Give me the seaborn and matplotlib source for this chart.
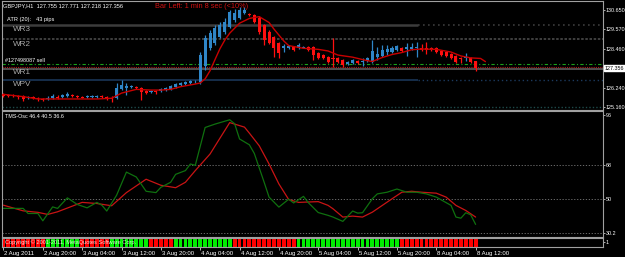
import numpy as np
import pandas as pd
import matplotlib
matplotlib.use("Agg")
import matplotlib.pyplot as plt
import matplotlib.transforms as mtransforms
import seaborn as sns

# ---------------- data ----------------
bars = list(range(97))
opens = [125.91, 125.85, 125.85, 125.80, 125.80, 125.68, 125.74, 125.68, 125.63, 125.63,
         125.68, 125.74, 125.74, 125.80, 125.85, 125.80, 125.74, 125.74, 125.74, 125.74,
         125.80, 125.74, 125.68, 125.68, 126.19, 126.25, 126.30, 126.30, 126.25, 126.08,
         126.02, 126.08, 126.08, 126.13, 126.19, 126.30, 126.41, 126.47, 126.53, 126.58,
         126.58, 127.48, 128.50, 128.78, 129.12, 129.40, 129.68, 130.07, 130.18, 130.46,
         130.41, 130.35, 130.18, 129.79, 129.40, 129.12, 128.78, 128.50, 128.50, 128.55,
         128.50, 128.50, 128.55, 128.55, 128.22, 128.10, 127.99, 127.93, 127.93, 127.82,
         127.60, 127.65, 127.77, 127.71, 127.77, 127.71, 127.99, 128.05, 128.27, 128.27,
         128.38, 128.50, 128.44, 128.44, 128.50, 128.50, 128.50, 128.50, 128.50, 128.33,
         128.27, 128.16, 128.05, 127.93, 127.93, 127.93, 127.755]
highs = [125.97, 125.91, 125.91, 125.85, 125.85, 125.80, 125.80, 125.74, 125.68, 125.80,
         125.91, 125.85, 125.91, 126.02, 125.91, 125.85, 125.80, 125.85, 125.85, 125.85,
         125.85, 125.80, 125.80, 126.53, 126.70, 126.53, 126.41, 126.36, 126.30, 126.13,
         126.13, 126.13, 126.25, 126.30, 126.41, 126.53, 126.58, 126.64, 126.70, 126.70,
         128.27, 129.23, 129.51, 129.79, 129.96, 130.18, 130.63, 130.69, 130.80, 130.80,
         130.46, 130.41, 130.30, 129.85, 129.51, 129.17, 128.83, 128.72, 128.66, 128.61,
         128.78, 128.61, 128.61, 128.61, 128.27, 128.16, 128.05, 129.06, 127.99, 127.88,
         127.77, 127.88, 127.82, 127.93, 127.99, 128.95, 128.55, 128.66, 128.66, 128.61,
         128.66, 128.55, 128.78, 128.78, 128.83, 128.72, 128.83, 128.55, 128.55, 128.38,
         128.33, 128.22, 128.10, 127.99, 128.22, 127.99, 127.771]
lows = [125.74, 125.74, 125.74, 125.63, 125.52, 125.63, 125.63, 125.52, 125.52, 125.57,
        125.63, 125.63, 125.68, 125.74, 125.74, 125.68, 125.68, 125.68, 125.68, 125.68,
        125.68, 125.57, 125.46, 125.63, 126.13, 125.85, 126.25, 126.19, 125.57, 125.91,
        125.97, 125.91, 126.02, 126.08, 126.13, 126.25, 126.36, 126.41, 126.47, 126.53,
        126.47, 127.26, 128.38, 128.66, 129.06, 129.28, 129.62, 129.96, 130.13, 130.41,
        130.30, 129.90, 129.28, 128.66, 128.72, 127.99, 127.93, 128.27, 128.44, 128.33,
        128.44, 128.47, 128.33, 127.82, 127.88, 127.88, 127.65, 127.43, 127.65, 127.43,
        127.54, 127.60, 127.60, 127.48, 127.71, 127.65, 127.82, 127.99, 128.10, 128.22,
        128.33, 128.27, 128.05, 128.38, 127.99, 128.33, 128.16, 128.33, 128.22, 128.05,
        127.99, 127.88, 127.65, 127.65, 127.77, 127.65, 127.218]
closes = [125.80, 125.82, 125.80, 125.74, 125.63, 125.74, 125.68, 125.63, 125.60, 125.68,
          125.80, 125.71, 125.85, 125.91, 125.80, 125.74, 125.71, 125.77, 125.75, 125.80,
          125.74, 125.68, 125.63, 126.25, 126.41, 126.36, 126.36, 126.25, 126.02, 125.97,
          126.08, 126.02, 126.19, 126.25, 126.36, 126.47, 126.53, 126.58, 126.64, 126.61,
          128.10, 129.06, 129.34, 129.62, 129.79, 129.96, 130.52, 130.46, 130.63, 130.63,
          130.35, 129.96, 129.40, 128.95, 128.78, 128.50, 128.22, 128.61, 128.61, 128.38,
          128.66, 128.55, 128.38, 128.10, 127.93, 127.93, 127.71, 127.88, 127.71, 127.54,
          127.71, 127.82, 127.65, 127.77, 127.93, 128.33, 128.16, 128.38, 128.44, 128.50,
          128.61, 128.33, 128.55, 128.55, 128.55, 128.38, 128.38, 128.38, 128.27, 128.10,
          128.05, 127.93, 127.71, 127.88, 127.99, 127.71, 127.356]

ma_bars = [0, 4, 7, 13, 19, 22, 24, 27, 30, 32, 34, 36, 39, 40, 41, 42, 43, 44, 45, 46,
           48, 50, 52, 54, 55, 57, 58, 61, 64, 66, 68, 71, 74, 75, 77, 79, 81, 83, 85, 88,
           91, 93, 95, 97, 98]
ma_vals = [125.89, 125.76, 125.63, 125.63, 125.63, 125.67, 125.96, 126.17, 126.13, 126.13,
           126.17, 126.32, 126.47, 126.53, 126.76, 127.22, 127.84, 128.45, 128.94, 129.33,
           129.89, 130.16, 130.26, 129.93, 129.56, 128.89, 128.63, 128.48, 128.42, 128.33,
           128.10, 127.98, 127.78, 127.74, 127.96, 128.13, 128.24, 128.40, 128.44, 128.42,
           128.27, 128.05, 127.94, 127.91, 127.73]

osc_fast_bars = [0, 4, 5, 7, 8, 10, 11, 13, 15, 17, 19, 20, 21, 23, 25, 27, 29, 31, 32, 34,
                 35, 37, 38, 39, 41, 43, 46, 47, 48, 50, 51, 53, 54, 56, 58, 59, 61, 62, 64,
                 66, 67, 69, 71, 72, 73, 75, 76, 78, 80, 82, 84, 86, 88, 91, 92, 93, 94, 95, 96]
osc_fast_vals = [45.1, 45.1, 42.4, 42.4, 38.5, 45.9, 45.1, 50.7, 47.2, 45.4, 48.3, 46.8, 43.7,
                 52.1, 64.4, 61.8, 54.2, 53.5, 56.3, 59.0, 63.2, 65.2, 68.7, 68.0, 88.1, 89.9,
                 92.2, 90.1, 82.0, 78.9, 74.3, 59.0, 51.1, 45.8, 50.0, 48.0, 51.5, 48.1, 42.9,
                 41.4, 40.5, 38.2, 43.7, 42.6, 42.8, 50.2, 52.8, 53.7, 55.4, 53.7, 53.7, 52.8,
                 51.1, 46.7, 40.5, 39.9, 42.8, 41.7, 36.6]
osc_slow_bars = [0, 4, 7, 9, 11, 16, 19, 22, 25, 29, 32, 35, 37, 39, 42, 46, 49, 50, 52, 54,
                 56, 58, 60, 64, 66, 67, 69, 71, 73, 75, 79, 81, 83, 85, 88, 90, 92, 94, 96]
osc_slow_vals = [46.8, 43.8, 43.0, 41.9, 43.3, 48.3, 47.7, 46.5, 53.5, 60.6, 57.4, 56.1, 59.0,
                 65.2, 74.0, 90.7, 88.3, 85.1, 78.4, 68.7, 58.1, 49.8, 48.3, 48.7, 46.7, 44.9,
                 40.5, 41.0, 40.5, 43.1, 50.2, 53.7, 54.2, 53.7, 53.2, 51.1, 46.7, 44.0, 40.5]

signal = ("RRRRRRRRR" "GGGGGGG" "RRRRRR" "GGGGGGGG" "RRRRR" "GGGGGGGGGGGG"
          "RRRRRRRRRRRRR" "GGGGGGGGGGGGGGGGGGGGG" "RRRRRRRRRRRRRRRR")

tick_bars = [0, 8, 16, 24, 32, 40, 48, 56, 64, 72, 80, 88, 96]
tick_labels = ["2 Aug 2011", "2 Aug 20:00", "3 Aug 04:00", "3 Aug 12:00", "3 Aug 20:00",
               "4 Aug 04:00", "4 Aug 12:00", "4 Aug 20:00", "5 Aug 04:00", "5 Aug 12:00",
               "5 Aug 20:00", "8 Aug 04:00", "8 Aug 12:00"]
price_ticks = [130.650, 129.570, 128.460, 126.240, 125.160]
last_price = 127.356
wr3, wr2, wr1, wpv = 129.79, 129.03, 127.34, 126.70
order_price, stop_price, floor_price = 127.60, 127.45, 125.18
osc_levels = [68, 50, 32]
osc_ticks = [94.6, 68, 50, 32]
osc_tick_labels = ["96", "68", "50", "30.2"]

# ---------------- style ----------------
sns.set_theme(style="dark", rc={"axes.facecolor": "black", "figure.facecolor": "black"})
plt.rcParams["font.family"] = ["Liberation Sans", "DejaVu Sans"]

BULL = "#2f86c8"
BEAR = "#ff1010"
SPINE = "#a0a0a0"
AXFS = 3.9   # right-hand scale labels
W, H = 625, 257

fig = plt.figure(figsize=(W / 100, H / 100), dpi=100, facecolor="black")


def box(x0, y0, x1, y1):
    return [x0 / W, 1 - y1 / H, (x1 - x0) / W, (y1 - y0) / H]


ax1 = fig.add_axes(box(2, 1, 603, 110))
ax2 = fig.add_axes(box(2, 111.5, 603, 237))
ax3 = fig.add_axes(box(2, 238, 603, 246.5))

for ax in (ax1, ax2, ax3):
    ax.set_facecolor("black")
    ax.grid(False)
    for s in ax.spines.values():
        s.set_color(SPINE)
        s.set_linewidth(0.8)
    ax.yaxis.tick_right()
    ax.tick_params(axis="y", colors="#c8c8c8", labelcolor="white", labelsize=AXFS,
                   length=1.5, width=0.6, pad=0.6, left=False, right=True)

xmin, xmax, xsplit = -0.3, 121.9, 84.3

# ---------------- price panel ----------------
df = pd.DataFrame({"bar": bars, "open": opens, "high": highs, "low": lows, "close": closes})
up = df["close"] >= df["open"]
cols = np.where(up, BULL, BEAR)
ax1.vlines(df["bar"], df["low"], df["high"], colors=cols, linewidth=0.9, zorder=3)
body = (df["close"] - df["open"]).abs().clip(lower=0.03)
ax1.bar(df["bar"], body, bottom=np.minimum(df["open"], df["close"]), width=0.62,
        color=cols, linewidth=0, zorder=4)

sns.lineplot(x=ma_bars, y=ma_vals, ax=ax1, color="#c80000", linewidth=1.0, zorder=5)

ax1.hlines(wr3, xmin, xsplit, color="#3c3c3c", linewidth=1.8, zorder=1)
ax1.hlines(wr3, xsplit, xmax, color="#3c3c3c", linewidth=1.2, linestyles=(0, (1, 2)), zorder=1)
ax1.hlines(wr2, xmin, xmax, color="#4a4a4a", linewidth=1.2, linestyles=(0, (1.5, 1)), zorder=1)
ax1.hlines(order_price, xmin, xmax, color="#1aa01a", linewidth=0.8,
           linestyles=(0, (3, 2, 1, 2)), zorder=2)
ax1.hlines(stop_price, xmin, xmax, color="#b01818", linewidth=0.8,
           linestyles=(0, (1, 1)), zorder=2)
ax1.hlines(wr1, xmin, xmax, color="#5e5e5e", linewidth=1.2, zorder=1)
ax1.hlines(wpv, xmin, xsplit, color="#1c3a5e", linewidth=1.1, zorder=1)
ax1.hlines(wpv, xsplit, xmax, color="#1c3a5e", linewidth=1.0, linestyles=(0, (1, 2)), zorder=1)
ax1.hlines(floor_price, xmin, xmax, color="#1e4a4a", linewidth=1.0,
           linestyles=(0, (1, 1.5)), zorder=1)

ax1.set_xlim(xmin, xmax)
ax1.set_ylim(125.01, 131.14)
ax1.set_yticks(price_ticks)
ax1.set_yticklabels([f"{v:.3f}" for v in price_ticks])
ax1.set_xticks([])
ax1.set_xlabel("")
ax1.set_ylabel("")
trans = mtransforms.blended_transform_factory(ax1.transAxes, ax1.transData)
ax1.text(1.0025, last_price, f"{last_price:.3f}", transform=trans, ha="left", va="center",
         fontsize=AXFS, color="black",
         bbox=dict(facecolor="white", edgecolor="white", boxstyle="square,pad=0.12"))

# ---------------- oscillator panel ----------------
sns.lineplot(x=osc_slow_bars, y=osc_slow_vals, ax=ax2, color="#c81414", linewidth=0.9)
sns.lineplot(x=osc_fast_bars, y=osc_fast_vals, ax=ax2, color="#0f700f", linewidth=0.9)
for lv in osc_levels:
    ax2.axhline(lv, color="#7a7a7a", linewidth=0.6, linestyle=(0, (1.5, 2)), zorder=0)
ax2.set_xlim(xmin, xmax)
ax2.set_ylim(29.9, 96.6)
ax2.set_yticks(osc_ticks)
ax2.set_yticklabels(osc_tick_labels)
ax2.set_xticks([])
ax2.set_xlabel("")
ax2.set_ylabel("")

# ---------------- signal strip ----------------
strip_cols = ["#00ee00" if s == "G" else "#ff0000" for s in signal]
ax3.bar(bars, [1.0] * len(bars), width=0.78, color=strip_cols, linewidth=0)
ax3.set_xlim(xmin, xmax)
ax3.set_ylim(0, 1)
ax3.set_yticks([0.5])
ax3.set_yticklabels(["1"])
ax3.set_xticks(tick_bars)
ax3.set_xticklabels(tick_labels, ha="left")
ax3.tick_params(axis="x", colors="#d0d0d0", labelcolor="white", labelsize=4.3,
                length=2.2, width=0.6, pad=0.8, bottom=True)
offset = mtransforms.ScaledTranslation(1 / 100, 0, fig.dpi_scale_trans)
for lbl in ax3.get_xticklabels():
    lbl.set_transform(lbl.get_transform() + offset)


# ---------------- texts ----------------
def ftext(x, y, s, size, **kw):
    fig.text(x / W, 1 - y / H, s, va="center", ha="left", fontsize=size, **kw)


ftext(3, 5.5, "GBPJPY,H1  127.755 127.771 127.218 127.356", 4.1, color="white")
ftext(155, 6, "Bar Left: 1 min 8 sec (<10%)", 5.3, color="#d01010")
ftext(7, 20, "ATR (20):   43 pips", 4.1, color="white")
ftext(13, 29.5, "WR3", 5.9, color="#a8a8a8")
ftext(13, 44, "WR2", 5.9, color="#a8a8a8")
ftext(5, 60, "#127498087 sell", 3.9, color="white")
ftext(13, 72.5, "WR1", 5.9, color="#a8a8a8")
ftext(13, 85, "WPV", 5.9, color="#a8a8a8")
ftext(5, 116, "TMS-Osc 46.4 40.5 36.6", 3.9, color="white")
ftext(5, 242.5, "Copyright \u00a9 2001-2011, MetaQuotes Software Corp.", 4.1, color="white",
      alpha=0.85)

fig.savefig("out.png", dpi=100, facecolor="black")
